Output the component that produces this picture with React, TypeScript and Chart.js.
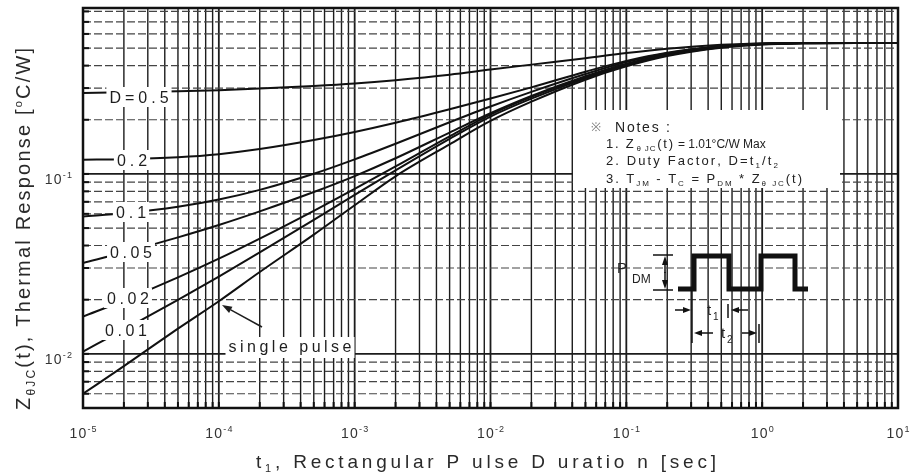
import React, { useEffect, useRef } from "react";
import { Chart, registerables } from "chart.js";

Chart.register(...registerables);

// ---------------- data ----------------
const pulseDurations = [1e-5, 2e-5, 5e-5, 1e-4, 2e-4, 5e-4, 1e-3, 2e-3, 5e-3, 1e-2, 2e-2, 5e-2, 1e-1, 2e-1, 5e-1, 1, 2, 5, 10];
const zthD050 = [0.282, 0.284, 0.288, 0.292, 0.298, 0.308, 0.318, 0.332, 0.356, 0.38, 0.405, 0.44, 0.47, 0.497, 0.522, 0.531, 0.535, 0.535, 0.535];
const zthD020 = [0.12, 0.1208, 0.1239, 0.1288, 0.1374, 0.1542, 0.171, 0.1923, 0.2286, 0.2624, 0.3027, 0.37, 0.425, 0.472, 0.514, 0.53, 0.534, 0.535, 0.535];
const zthD010 = [0.058, 0.0604, 0.0656, 0.072, 0.0815, 0.1002, 0.1205, 0.1472, 0.1938, 0.237, 0.2858, 0.359, 0.419, 0.468, 0.512, 0.529, 0.534, 0.535, 0.535];
const zthD005 = [0.032, 0.0366, 0.0444, 0.052, 0.0619, 0.0793, 0.0973, 0.1222, 0.1698, 0.2173, 0.271, 0.349, 0.41, 0.462, 0.51, 0.528, 0.534, 0.535, 0.535];
const zthD002 = [0.0161, 0.0198, 0.0266, 0.0338, 0.0437, 0.0624, 0.0826, 0.1101, 0.1618, 0.2137, 0.268, 0.345, 0.406, 0.46, 0.508, 0.527, 0.533, 0.535, 0.535];
const zthD001 = [0.0103, 0.01364, 0.01996, 0.0269, 0.0366, 0.0556, 0.0764, 0.1047, 0.1567, 0.2083, 0.262, 0.34, 0.402, 0.457, 0.506, 0.526, 0.533, 0.535, 0.535];
const zthSingle = [0.006, 0.00855, 0.0138, 0.0196, 0.0285, 0.046, 0.067, 0.097, 0.146, 0.197, 0.252, 0.334, 0.396, 0.452, 0.503, 0.524, 0.532, 0.535, 0.535];

const seriesNames = ["D=0.5", "0.2", "0.1", "0.05", "0.02", "0.01", "single pulse"];
const seriesValues = [zthD050, zthD020, zthD010, zthD005, zthD002, zthD001, zthSingle];

const xTickExponents = ["-5", "-4", "-3", "-2", "-1", "0", "1"];
const yTickExponents = ["-2", "-1"];
const X_MIN = 1e-5;
const X_MAX = 10;
const Y_MIN = 0.005;
const Y_MAX = 0.836;

// ---------------- drawing helpers ----------------
const FONT = '"Liberation Sans", Arial, Helvetica, sans-serif';
const W = 912;
const H = 476;

type Seg = { t: string; size: number; dy?: number; fit?: boolean };

function setFont(ctx: CanvasRenderingContext2D, size: number) {
  ctx.font = `${size}px ${FONT}`;
}

function measureSegs(ctx: CanvasRenderingContext2D, segs: Seg[]) {
  let w = 0;
  let n = 0;
  for (const s of segs) {
    setFont(ctx, s.size);
    for (const ch of Array.from(s.t)) {
      w += ctx.measureText(ch).width;
      if (s.fit) n++;
    }
  }
  return { w, n };
}

function drawSegs(ctx: CanvasRenderingContext2D, segs: Seg[], x: number, y: number, ls: number) {
  let cx = x;
  for (const s of segs) {
    setFont(ctx, s.size);
    for (const ch of Array.from(s.t)) {
      ctx.fillText(ch, cx, y + (s.dy ?? 0));
      cx += ctx.measureText(ch).width + (s.fit ? ls : 0);
    }
  }
  return cx;
}

function drawFit(ctx: CanvasRenderingContext2D, segs: Seg[], x0: number, x1: number, y: number) {
  const { w, n } = measureSegs(ctx, segs);
  const ls = n > 1 ? (x1 - x0 - w) / (n - 1) : 0;
  drawSegs(ctx, segs, x0, y, ls);
}

function spacedWidth(ctx: CanvasRenderingContext2D, t: string, size: number, ls: number) {
  setFont(ctx, size);
  const chars = Array.from(t);
  let w = 0;
  for (const ch of chars) w += ctx.measureText(ch).width;
  return w + ls * (chars.length - 1);
}

function drawSpaced(ctx: CanvasRenderingContext2D, t: string, size: number, ls: number, x: number, y: number) {
  setFont(ctx, size);
  let cx = x;
  for (const ch of Array.from(t)) {
    ctx.fillText(ch, cx, y);
    cx += ctx.measureText(ch).width + ls;
  }
}

function line(ctx: CanvasRenderingContext2D, x1: number, y1: number, x2: number, y2: number) {
  ctx.beginPath();
  ctx.moveTo(x1, y1);
  ctx.lineTo(x2, y2);
  ctx.stroke();
}

function arrow(ctx: CanvasRenderingContext2D, x1: number, y1: number, x2: number, y2: number, len = 9, half = 3.5) {
  const a = Math.atan2(y2 - y1, x2 - x1);
  const bx = x2 - len * Math.cos(a);
  const by = y2 - len * Math.sin(a);
  line(ctx, x1, y1, bx, by);
  ctx.beginPath();
  ctx.moveTo(x2, y2);
  ctx.lineTo(bx + half * Math.sin(a), by - half * Math.cos(a));
  ctx.lineTo(bx - half * Math.sin(a), by + half * Math.cos(a));
  ctx.closePath();
  ctx.fill();
}

// label placement (decoration, pixel layout)
const curveLabelLayout = [
  { cx: 139, cy: 97, ls: 4 },
  { cx: 132, cy: 160, ls: 4 },
  { cx: 131, cy: 212, ls: 4 },
  { cx: 131, cy: 252, ls: 3.6 },
  { cx: 128, cy: 298, ls: 3.6 },
  { cx: 126, cy: 330, ls: 3.6 },
];

const decorPlugin = {
  id: "thermalDecor",
  beforeDatasetsDraw(chart: any) {
    const { ctx, chartArea: a, scales } = chart;
    const xs = scales.x;
    const ys = scales.y;
    ctx.save();
    ctx.fillStyle = "#fff";
    ctx.fillRect(a.left, a.top, a.right - a.left, a.bottom - a.top);
    // vertical grid
    ctx.strokeStyle = "#1c1c1c";
    ctx.setLineDash([]);
    for (let e = -5; e <= 0; e++) {
      for (let m = 1; m <= 9; m++) {
        const v = m * Math.pow(10, e);
        const px = xs.getPixelForValue(v);
        if (px <= a.left + 1) continue;
        ctx.lineWidth = m === 1 ? 1.8 : 1.4;
        line(ctx, px, a.top, px, a.bottom);
      }
    }
    // horizontal grid
    for (let e = -3; e <= -1; e++) {
      for (let m = 1; m <= 9; m++) {
        const v = m * Math.pow(10, e);
        if (v < Y_MIN * 1.01 || v > Y_MAX) continue;
        const py = ys.getPixelForValue(v);
        if (m === 1) {
          ctx.setLineDash([]);
          ctx.lineWidth = 1.8;
          ctx.strokeStyle = "#1c1c1c";
        } else {
          ctx.setLineDash([8, 3]);
          ctx.lineWidth = 1.2;
          ctx.strokeStyle = "#444";
        }
        line(ctx, a.left, py, a.right, py);
      }
    }
    ctx.restore();
  },
  afterDraw(chart: any) {
    const { ctx, chartArea: a, scales } = chart;
    const xs = scales.x;
    const ys = scales.y;
    ctx.save();
    ctx.setLineDash([]);
    ctx.textBaseline = "alphabetic";
    ctx.textAlign = "left";

    // curve labels with white backing
    curveLabelLayout.forEach((l, i) => {
      const t = seriesNames[i];
      const w = spacedWidth(ctx, t, 16, l.ls);
      ctx.fillStyle = "#fff";
      ctx.fillRect(l.cx - w / 2 - 3, l.cy - 10, w + 6, 20);
      ctx.fillStyle = "#1e1e1e";
      drawSpaced(ctx, t, 16, l.ls, l.cx - w / 2, l.cy + 6);
    });

    // single pulse label + arrow
    {
      const t = seriesNames[6];
      const w = spacedWidth(ctx, t, 16, 3.5);
      ctx.fillStyle = "#fff";
      ctx.fillRect(290 - w / 2 - 3, 337, w + 6, 21);
      ctx.fillStyle = "#1e1e1e";
      drawSpaced(ctx, t, 16, 3.5, 290 - w / 2, 352);
      ctx.strokeStyle = "#1e1e1e";
      ctx.lineWidth = 1.5;
      arrow(ctx, 262, 327, 222, 305, 10, 3.5);
    }

    // notes box
    ctx.fillStyle = "#fff";
    ctx.fillRect(573, 110, 267, 78);
    ctx.fillStyle = "#777";
    setFont(ctx, 12);
    ctx.fillText("※", 591, 131);
    ctx.fillStyle = "#222";
    drawFit(ctx, [{ t: "Notes :", size: 14, fit: true }], 615, 670, 132);
    {
      const x0 = 606;
      let cx = x0;
      const ls = 1.8;
      cx = drawSegs(ctx, [{ t: "1. Z", size: 13, fit: true }], cx, 148, ls);
      cx = drawSegs(ctx, [{ t: "θ JC", size: 8, dy: 3, fit: true }], cx + 1, 148, 0.8);
      cx = drawSegs(ctx, [{ t: "(t)", size: 13, fit: true }], cx + 1, 148, ls);
      drawSegs(ctx, [{ t: "= 1.01°C/W Max", size: 12 }], cx + 3, 148, 0);
    }
    drawFit(
      ctx,
      [
        { t: "2. Duty Factor, D=t", size: 13, fit: true },
        { t: "1", size: 8, dy: 3, fit: true },
        { t: "/t", size: 13, fit: true },
        { t: "2", size: 8, dy: 3, fit: true },
      ],
      606,
      778,
      165
    );
    drawFit(
      ctx,
      [
        { t: "3. T", size: 13, fit: true },
        { t: "JM", size: 8, dy: 3, fit: true },
        { t: " - T", size: 13, fit: true },
        { t: "C", size: 8, dy: 3, fit: true },
        { t: " = P", size: 13, fit: true },
        { t: "DM", size: 8, dy: 3, fit: true },
        { t: " * Z", size: 13, fit: true },
        { t: "θ JC", size: 8, dy: 3, fit: true },
        { t: "(t)", size: 13, fit: true },
      ],
      606,
      802,
      183
    );

    // pulse diagram
    ctx.strokeStyle = "#111";
    ctx.fillStyle = "#111";
    ctx.lineWidth = 5;
    ctx.lineJoin = "miter";
    ctx.beginPath();
    ctx.moveTo(678, 289);
    ctx.lineTo(694, 289);
    ctx.lineTo(694, 256);
    ctx.lineTo(729, 256);
    ctx.lineTo(729, 289);
    ctx.lineTo(761, 289);
    ctx.lineTo(761, 256);
    ctx.lineTo(795, 256);
    ctx.lineTo(795, 289);
    ctx.lineTo(808, 289);
    ctx.stroke();
    ctx.lineWidth = 1.5;
    line(ctx, 653, 255, 673, 255);
    line(ctx, 653, 290, 673, 290);
    arrow(ctx, 665, 273, 665, 256, 9, 3);
    arrow(ctx, 665, 272, 665, 289, 9, 3);
    ctx.fillStyle = "#222";
    setFont(ctx, 15);
    ctx.fillText("P", 617, 273);
    setFont(ctx, 12);
    ctx.fillText("DM", 632, 283);
    ctx.fillStyle = "#111";
    line(ctx, 692, 291, 692, 343);
    arrow(ctx, 675, 310, 691, 310, 8, 3);
    line(ctx, 728, 304, 728, 318);
    arrow(ctx, 748, 310, 731, 310, 8, 3);
    arrow(ctx, 713, 333, 694, 333, 8, 3);
    arrow(ctx, 742, 333, 757, 333, 8, 3);
    line(ctx, 759, 324, 759, 343);
    ctx.fillStyle = "#222";
    setFont(ctx, 15);
    ctx.fillText("t", 707, 315);
    ctx.fillText("t", 721, 338);
    setFont(ctx, 10);
    ctx.fillText("1", 713, 320);
    ctx.fillText("2", 727, 343);

    // frame
    ctx.strokeStyle = "#111";
    ctx.lineWidth = 2.5;
    ctx.strokeRect(a.left, a.top, a.right - a.left, a.bottom - a.top);

    // axis ticks (inward)
    ctx.lineWidth = 2;
    for (let e = -5; e <= 0; e++) {
      for (let m = 1; m <= 9; m++) {
        const px = xs.getPixelForValue(m * Math.pow(10, e));
        line(ctx, px, a.bottom, px, a.bottom - 6);
      }
    }
    for (let e = -3; e <= -1; e++) {
      for (let m = 1; m <= 9; m++) {
        const v = m * Math.pow(10, e);
        if (v < Y_MIN * 1.01 || v > Y_MAX) continue;
        const py = ys.getPixelForValue(v);
        line(ctx, a.left, py, a.left + 6, py);
      }
    }

    // x tick labels
    ctx.fillStyle = "#333";
    xTickExponents.forEach((ex) => {
      const v = Math.pow(10, Number(ex));
      const px = xs.getPixelForValue(v);
      const segs: Seg[] = [
        { t: "10", size: 14, fit: true },
        { t: ex, size: 9, dy: -6, fit: true },
      ];
      const { w, n } = measureSegs(ctx, segs);
      const ls = 1.2;
      const tw = w + ls * (n - 1);
      drawSegs(ctx, segs, px - tw / 2, 438, ls);
    });

    // y tick labels
    yTickExponents.forEach((ex) => {
      const v = Math.pow(10, Number(ex));
      const py = ys.getPixelForValue(v);
      const segs: Seg[] = [
        { t: "10", size: 14, fit: true },
        { t: ex, size: 9, dy: -6, fit: true },
      ];
      const { w, n } = measureSegs(ctx, segs);
      const ls = 1.2;
      const tw = w + ls * (n - 1);
      drawSegs(ctx, segs, 72 - tw, py + 10, ls);
    });

    // x axis title
    ctx.fillStyle = "#2a2a2a";
    drawFit(
      ctx,
      [
        { t: "t", size: 19, fit: true },
        { t: "1", size: 11, dy: 4, fit: true },
        { t: ", Rectangular P ulse D uratio n [sec]", size: 19, fit: true },
      ],
      256,
      716,
      468
    );

    // y axis title (rotated)
    ctx.save();
    ctx.translate(23, 229);
    ctx.rotate(-Math.PI / 2);
    drawFit(
      ctx,
      [
        { t: "Z", size: 20, fit: true },
        { t: "θJC", size: 12, dy: 5, fit: true },
        { t: "(t), Thermal Response [", size: 20, fit: true },
        { t: "o", size: 11, dy: -8, fit: true },
        { t: "C/W]", size: 20, fit: true },
      ],
      -181,
      181,
      7
    );
    ctx.restore();

    ctx.restore();
  },
};

export default function App() {
  const ref = useRef<HTMLCanvasElement>(null);
  useEffect(() => {
    const canvas = ref.current;
    if (!canvas) return;
    const chart = new Chart(canvas, {
      type: "line",
      data: {
        datasets: seriesValues.map((vals, i) => ({
          label: seriesNames[i],
          data: pulseDurations.map((t, k) => ({ x: t, y: vals[k] })),
          borderColor: "#111",
          borderWidth: 2,
          pointRadius: 0,
          fill: false,
          cubicInterpolationMode: "monotone" as const,
        })),
      },
      options: {
        responsive: false,
        animation: false,
        devicePixelRatio: 1,
        layout: { padding: { left: 83, top: 8, right: W - 898, bottom: H - 408 } },
        plugins: { legend: { display: false }, tooltip: { enabled: false } },
        scales: {
          x: { type: "logarithmic", min: X_MIN, max: X_MAX, display: false },
          y: { type: "logarithmic", min: Y_MIN, max: Y_MAX, display: false },
        },
      },
      plugins: [decorPlugin as any],
    });
    return () => chart.destroy();
  }, []);
  return (
    <canvas
      ref={ref}
      width={W}
      height={H}
      style={{ position: "absolute", left: 0, top: 0, width: W, height: H, display: "block" }}
    />
  );
}
